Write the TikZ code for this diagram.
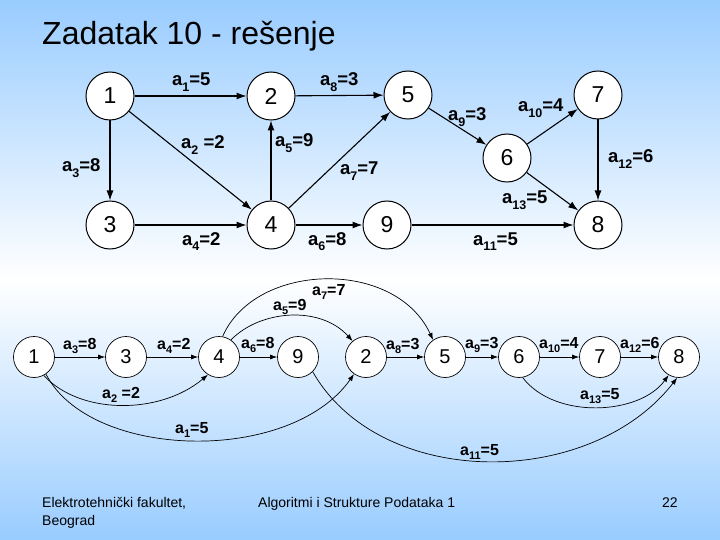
\documentclass[tikz,border=0pt]{standalone}
\usepackage{fontspec}
\setmainfont{Liberation Sans}
\usetikzlibrary{arrows.meta}
\definecolor{bgblue}{RGB}{153,204,255}
\def\subsz{11}
\newcommand\Aw[2]{a\raisebox{-0.55ex}{\fontsize{\subsz}{\subsz}\selectfont #1}#2}
\begin{document}
\begin{tikzpicture}[x=1pt,y=-1pt,
  tnode/.style={circle,draw,fill=white,line width=1pt,minimum size=48pt,inner sep=0pt,font=\fontsize{23}{23}\selectfont},
  bnode/.style={circle,draw,fill=white,line width=0.7pt,minimum size=41pt,inner sep=0pt,font=\fontsize{20}{20}\selectfont},
  tedge/.style={line width=1.1pt,-{Latex[length=10pt,width=7pt]}},
  bedge/.style={line width=0.7pt,-{Latex[length=7pt,width=5pt]}},
  tlab/.style={anchor=base west,inner sep=0pt,font=\bfseries\fontsize{18.5}{18.5}\selectfont\def\subsz{12.5}},
  blab/.style={anchor=base west,inner sep=0pt,font=\bfseries\fontsize{16}{16}\selectfont\def\subsz{11}},
  foot/.style={anchor=base west,inner sep=0pt,font=\fontsize{14}{14}\selectfont}
]
\shade[top color=bgblue,bottom color=white] (0,0) rectangle (720,280);
\shade[top color=white,bottom color=bgblue] (0,280) rectangle (720,540);
\useasboundingbox (0,0) rectangle (720,540);

\node[anchor=base west,inner sep=0pt,font=\fontsize{32}{32}\selectfont] (title) at (42,45) {Zadatak 10 - rešenje};

% top graph
\node[tnode] (t1) at (110,96) {1};
\node[tnode] (t2) at (271,96) {2};
\node[tnode] (t5) at (408,95) {5};
\node[tnode] (t7) at (598,95) {7};
\node[tnode] (t6) at (507,158) {6};
\node[tnode] (t3) at (110,225) {3};
\node[tnode] (t4) at (271,225) {4};
\node[tnode] (t9) at (387,225) {9};
\node[tnode] (t8) at (598,225) {8};

\draw[tedge] (t1) -- (t2);
\draw[tedge] (t2) -- (t5);
\draw[tedge] (t1) -- (t3);
\draw[tedge] (t1) -- (t4);
\draw[tedge] (t3) -- (t4);
\draw[tedge] (t4) -- (t2);
\draw[tedge] (t4) -- (t5);
\draw[tedge] (t4) -- (t9);
\draw[tedge] (t5) -- (t6);
\draw[tedge] (t6) -- (t7);
\draw[tedge] (t7) -- (t8);
\draw[tedge] (t6) -- (t8);
\draw[tedge] (t9) -- (t8);

\node[tlab] (la1) at (172,86) {\Aw{1}{=5}};
\node[tlab] (la8) at (320,86) {\Aw{8}{=3}};
\node[tlab] (la2) at (181,149) {\Aw{2}{\ =2}};
\node[tlab] (la5) at (275,147) {\Aw{5}{=9}};
\node[tlab] (la3) at (62,172) {\Aw{3}{=8}};
\node[tlab] (la7) at (340,175) {\Aw{7}{=7}};
\node[tlab] (la4) at (182,245) {\Aw{4}{=2}};
\node[tlab] (la6) at (308,245) {\Aw{6}{=8}};
\node[tlab] (la9) at (448,121) {\Aw{9}{=3}};
\node[tlab] (la10) at (518,112) {\Aw{10}{=4}};
\node[tlab] (la12) at (608,163) {\Aw{12}{=6}};
\node[tlab] (la13) at (502,204) {\Aw{13}{=5}};
\node[tlab] (la11) at (473,245) {\Aw{11}{=5}};

% bottom graph
\node[bnode] (b1) at (34,357) {1};
\node[bnode] (b3) at (126,357) {3};
\node[bnode] (b4) at (219,357) {4};
\node[bnode] (b9) at (298,357) {9};
\node[bnode] (b2) at (366,357) {2};
\node[bnode] (b5) at (445,357) {5};
\node[bnode] (b6) at (519,357) {6};
\node[bnode] (b7) at (600,357) {7};
\node[bnode] (b8) at (679,357) {8};

\draw[bedge] (b1) -- (b3);
\draw[bedge] (b3) -- (b4);
\draw[bedge] (b4) -- (b9);
\draw[bedge] (b2) -- (b5);
\draw[bedge] (b5) -- (b6);
\draw[bedge] (b6) -- (b7);
\draw[bedge] (b7) -- (b8);
\draw[bedge] (b1.-62) .. controls (80,415) and (160,415) .. (b4.-122);
\draw[bedge] (b1.-55) .. controls (90,460) and (290,465) .. (b2.-125);
\draw[bedge] (b4.55) .. controls (260,310) and (320,305) .. (b2.130);
\draw[bedge] (b4.80) .. controls (255,262) and (395,258) .. (b5.125);
\draw[bedge] (b9.-45) .. controls (380,490) and (590,490) .. (b8.-95);
\draw[bedge] (b6.-80) .. controls (555,420) and (640,415) .. (b8.-120);

\node[blab] (lb3) at (63,349) {\Aw{3}{=8}};
\node[blab] (lb4) at (157,349) {\Aw{4}{=2}};
\node[blab] (lb6) at (241,348) {\Aw{6}{=8}};
\node[blab] (lb2) at (102,398) {\Aw{2}{\ =2}};
\node[blab] (lb1) at (175,433) {\Aw{1}{=5}};
\node[blab] (lb5) at (273,310) {\Aw{5}{=9}};
\node[blab] (lb7) at (312,295) {\Aw{7}{=7}};
\node[blab] (lb8) at (386,349) {\Aw{8}{=3}};
\node[blab] (lb9) at (465,348) {\Aw{9}{=3}};
\node[blab] (lb10) at (539,348) {\Aw{10}{=4}};
\node[blab] (lb12) at (620,348) {\Aw{12}{=6}};
\node[blab] (lb13) at (580,399) {\Aw{13}{=5}};
\node[blab] (lb11) at (460,455) {\Aw{11}{=5}};

% footer
\node[foot] (f1) at (42,507) {Elektrotehnički fakultet,};
\node[foot] (f2) at (42,525) {Beograd};
\node[foot] (f3) at (258,507) {Algoritmi i Strukture Podataka 1};
\node[foot] (f4) at (662,507) {22};
\end{tikzpicture}
\end{document}
